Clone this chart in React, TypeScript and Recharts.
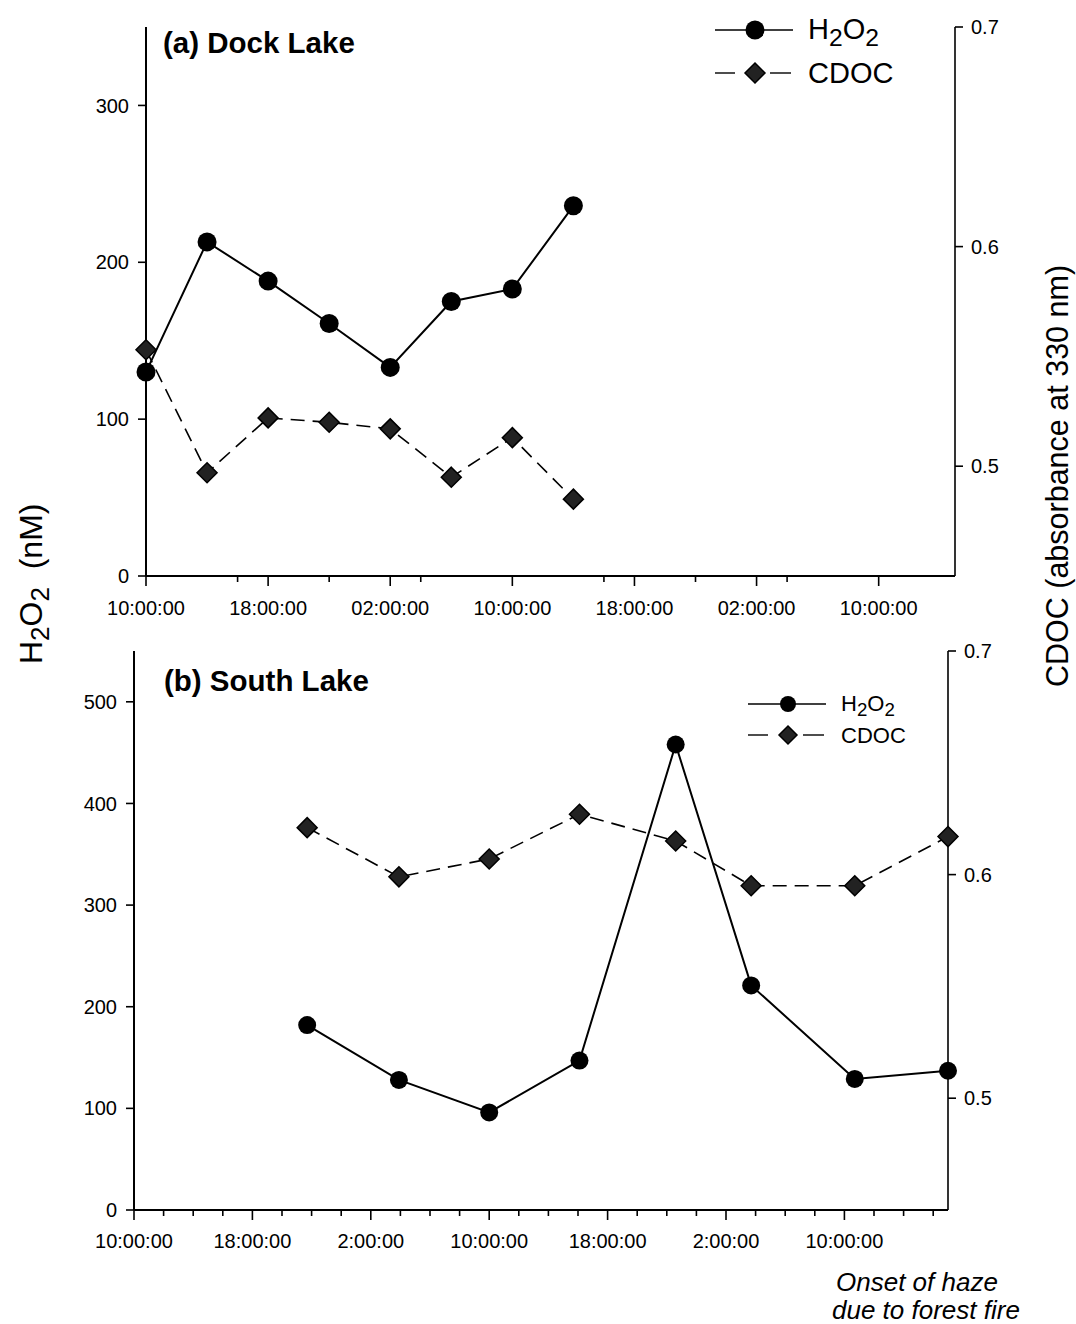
import { Line, LineChart, XAxis, YAxis } from "recharts";

const FONT = "'Liberation Sans', Arial, Helvetica, sans-serif";

// sampling times, hours after 10:00 on the first day
const DOCK_HOURS = [0, 4, 8, 12, 16, 20, 24, 28];
const DOCK_H2O2 = [130, 213, 188, 161, 133, 175, 183, 236];
const DOCK_CDOC = [0.553, 0.497, 0.522, 0.52, 0.517, 0.495, 0.513, 0.485];

const SOUTH_HOURS = [11.7, 17.9, 24, 30.1, 36.6, 41.7, 48.7, 55];
const SOUTH_H2O2 = [182, 128, 96, 147, 458, 221, 129, 137];
const SOUTH_CDOC = [0.621, 0.599, 0.607, 0.627, 0.615, 0.595, 0.595, 0.617];

const MAJOR_HOURS = [0, 8, 16, 24, 32, 40, 48];
const DOCK_LABELS = ["10:00:00", "18:00:00", "02:00:00", "10:00:00", "18:00:00", "02:00:00", "10:00:00"];
const SOUTH_LABELS = ["10:00:00", "18:00:00", "2:00:00", "10:00:00", "18:00:00", "2:00:00", "10:00:00"];
const DOCK_MINOR = [6, 12, 18, 30, 36, 42];
const SOUTH_MINOR = [2, 4, 6, 10, 12, 14, 18, 20, 22, 26, 28, 30, 34, 36, 38, 42, 44, 46, 50, 52, 54];

const DOCK_LEFT_TICKS = [0, 100, 200, 300];
const SOUTH_LEFT_TICKS = [0, 100, 200, 300, 400, 500];
const CDOC_TICKS = [0.5, 0.6, 0.7];

const rows = (hours: number[], h2o2: number[], cdoc: number[]) =>
  hours.map((t, i) => ({ t, h2o2: h2o2[i], cdoc: cdoc[i] }));

const AXIS_LINE = { stroke: "#000", strokeWidth: 2 };
const TICK_TEXT = { fontSize: 20, fill: "#000", fontFamily: FONT };

// ticks drawn by hand so major (labelled) and minor ticks can have different lengths
const timeTick = (labels: string[], gap: number) => (p: any) => {
  const v = p.payload.value;
  const k = MAJOR_HOURS.indexOf(v);
  const len = k >= 0 ? 10 : 6;
  return (
    <g key={`tick-${v}`}>
      <line x1={p.x} x2={p.x} y1={p.y} y2={p.y + len} stroke="#000" strokeWidth={1.6} />
      {k >= 0 && (
        <text x={p.x} y={p.y + gap} textAnchor="middle" {...TICK_TEXT}>
          {labels[k]}
        </text>
      )}
    </g>
  );
};

const circleDot = (r: number) => (p: any) =>
  p.cx == null ? null : <circle key={`c-${p.index}`} cx={p.cx} cy={p.cy} r={r} fill="#000" />;

const diamondDot = (s: number) => (p: any) =>
  p.cx == null ? null : (
    <path
      key={`d-${p.index}`}
      d={`M${p.cx},${p.cy - s}L${p.cx + s},${p.cy}L${p.cx},${p.cy + s}L${p.cx - s},${p.cy}Z`}
      fill="#222"
      stroke="#000"
      strokeWidth={1.5}
    />
  );

function H2O2Text({ x, y, size }: { x: number; y: number; size: number }) {
  const sub = size * 0.85;
  const shift = size * 0.24;
  return (
    <text x={x} y={y} fontSize={size} fontFamily={FONT} fill="#000">
      <tspan>H</tspan>
      <tspan dy={shift} fontSize={sub}>2</tspan>
      <tspan dy={-shift}>O</tspan>
      <tspan dy={shift} fontSize={sub}>2</tspan>
    </text>
  );
}

function LegendBlock({ x, y1, y2, size, r, s, textX }: any) {
  return (
    <g>
      <line x1={x} x2={x + 78} y1={y1} y2={y1} stroke="#000" strokeWidth={1.6} />
      <circle cx={x + 40} cy={y1} r={r} fill="#000" />
      <H2O2Text x={textX} y={y1 + size * 0.3} size={size} />
      <line x1={x} x2={x + 20} y1={y2} y2={y2} stroke="#000" strokeWidth={1.4} />
      <line x1={x + 55} x2={x + 76} y1={y2} y2={y2} stroke="#000" strokeWidth={1.4} />
      <path
        d={`M${x + 40},${y2 - s}L${x + 40 + s},${y2}L${x + 40},${y2 + s}L${x + 40 - s},${y2}Z`}
        fill="#222"
        stroke="#000"
        strokeWidth={1.5}
      />
      <text x={textX} y={y2 + size * 0.36} fontSize={size} fontFamily={FONT} fill="#000">
        CDOC
      </text>
    </g>
  );
}

function DockChart() {
  return (
    <LineChart
      width={1076}
      height={625}
      data={rows(DOCK_HOURS, DOCK_H2O2, DOCK_CDOC)}
      margin={{ top: 27, right: 61, bottom: 4, left: 86 }}
    >
      <XAxis
        dataKey="t"
        type="number"
        domain={[0, 53]}
        ticks={[...MAJOR_HOURS, ...DOCK_MINOR].sort((a, b) => a - b)}
        interval={0}
        tickSize={0}
        tickMargin={0}
        tickLine={false}
        axisLine={AXIS_LINE}
        height={45}
        tick={timeTick(DOCK_LABELS, 39)}
      />
      <YAxis
        yAxisId="left"
        domain={[0, 350]}
        ticks={DOCK_LEFT_TICKS}
        interval={0}
        width={60}
        tickSize={8}
        tickMargin={9}
        axisLine={AXIS_LINE}
        tickLine={{ stroke: "#000", strokeWidth: 1.6 }}
        tick={TICK_TEXT}
      />
      <YAxis
        yAxisId="right"
        orientation="right"
        domain={[0.45, 0.7]}
        ticks={CDOC_TICKS}
        interval={0}
        width={60}
        tickSize={8}
        tickMargin={8}
        tickFormatter={(v: number) => v.toFixed(1)}
        axisLine={{ stroke: "#000", strokeWidth: 1.6 }}
        tickLine={{ stroke: "#000", strokeWidth: 1.6 }}
        tick={TICK_TEXT}
      />
      <Line
        yAxisId="right"
        dataKey="cdoc"
        stroke="#000"
        strokeWidth={1.6}
        strokeDasharray="14 8"
        dot={diamondDot(10)}
        isAnimationActive={false}
      />
      <Line
        yAxisId="left"
        dataKey="h2o2"
        stroke="#000"
        strokeWidth={2}
        dot={circleDot(9.5)}
        isAnimationActive={false}
      />
    </LineChart>
  );
}

function SouthChart() {
  return (
    <LineChart
      width={1076}
      height={640}
      data={rows(SOUTH_HOURS, SOUTH_H2O2, SOUTH_CDOC)}
      margin={{ top: 31, right: 68, bottom: 5, left: 74 }}
    >
      <XAxis
        dataKey="t"
        type="number"
        domain={[0, 55]}
        ticks={[...MAJOR_HOURS, ...SOUTH_MINOR].sort((a, b) => a - b)}
        interval={0}
        tickSize={0}
        tickMargin={0}
        tickLine={false}
        axisLine={AXIS_LINE}
        height={45}
        tick={timeTick(SOUTH_LABELS, 38)}
      />
      <YAxis
        yAxisId="left"
        domain={[0, 550]}
        ticks={SOUTH_LEFT_TICKS}
        interval={0}
        width={60}
        tickSize={8}
        tickMargin={9}
        axisLine={AXIS_LINE}
        tickLine={{ stroke: "#000", strokeWidth: 1.6 }}
        tick={TICK_TEXT}
      />
      <YAxis
        yAxisId="right"
        orientation="right"
        domain={[0.45, 0.7]}
        ticks={CDOC_TICKS}
        interval={0}
        width={60}
        tickSize={8}
        tickMargin={8}
        tickFormatter={(v: number) => v.toFixed(1)}
        axisLine={{ stroke: "#000", strokeWidth: 1.6 }}
        tickLine={{ stroke: "#000", strokeWidth: 1.6 }}
        tick={TICK_TEXT}
      />
      <Line
        yAxisId="right"
        dataKey="cdoc"
        stroke="#000"
        strokeWidth={1.6}
        strokeDasharray="14 8"
        dot={diamondDot(10)}
        isAnimationActive={false}
      />
      <Line
        yAxisId="left"
        dataKey="h2o2"
        stroke="#000"
        strokeWidth={2}
        dot={circleDot(9)}
        isAnimationActive={false}
      />
    </LineChart>
  );
}

export default function App() {
  return (
    <div style={{ position: "absolute", left: 0, top: 0, width: 1076, height: 1324, background: "#fff" }}>
      <div style={{ position: "absolute", left: 0, top: 0 }}>
        <DockChart />
      </div>
      <div style={{ position: "absolute", left: 0, top: 620 }}>
        <SouthChart />
      </div>
      <svg
        width={1076}
        height={1324}
        style={{ position: "absolute", left: 0, top: 0, pointerEvents: "none" }}
      >
        <text x={163} y={53} fontSize={29.5} fontWeight="bold" fontFamily={FONT} fill="#000">
          (a) Dock Lake
        </text>
        <text x={164} y={691} fontSize={29.5} fontWeight="bold" fontFamily={FONT} fill="#000">
          (b) South Lake
        </text>
        <LegendBlock x={715} y1={30} y2={73} size={29} r={9.5} s={10} textX={808} />
        <LegendBlock x={748} y1={704} y2={735} size={22} r={8} s={9} textX={841} />
        <g transform="translate(42,664) rotate(-90)">
          <text x={0} y={0} fontSize={32} fontFamily={FONT} fill="#000">
            <tspan>H</tspan>
            <tspan dy={7} fontSize={26}>2</tspan>
            <tspan dy={-7}>O</tspan>
            <tspan dy={7} fontSize={26}>2</tspan>
            <tspan dy={-7}>{"\u00a0\u00a0(nM)"}</tspan>
          </text>
        </g>
        <text
          transform="translate(1068,476) rotate(-90)"
          textAnchor="middle"
          fontSize={30.5}
          fontFamily={FONT}
          fill="#000"
        >
          CDOC (absorbance at 330 nm)
        </text>
        <text x={836} y={1291} fontSize={26} fontStyle="italic" fontFamily={FONT} fill="#000">
          Onset of haze
        </text>
        <text x={832} y={1319} fontSize={26} fontStyle="italic" fontFamily={FONT} fill="#000">
          due to forest fire
        </text>
      </svg>
    </div>
  );
}
